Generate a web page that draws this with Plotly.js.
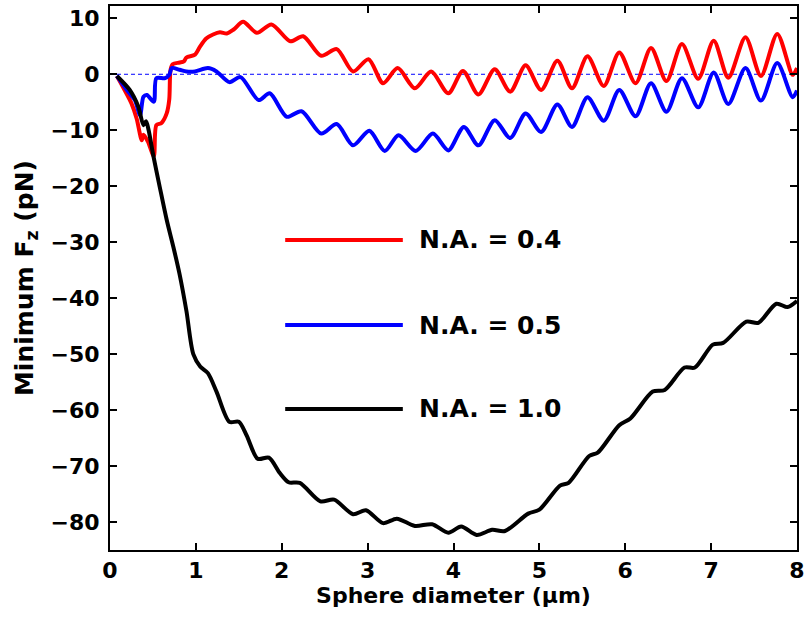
<!DOCTYPE html>
<html>
<head>
<meta charset="utf-8">
<script src="https://cdn.plot.ly/plotly-3.0.1.min.js"></script>
<style>
  html, body { margin: 0; padding: 0; background: #ffffff; }
  #chart { width: 807px; height: 620px; }
</style>
</head>
<body>
<div id="chart"></div>
<script>
// Minimum axial force Fz (pN) versus sphere diameter (um) for three numerical apertures.
const seriesNames = ['N.A. = 0.4', 'N.A. = 0.5', 'N.A. = 1.0'];
const seriesColors = ['#ff0000', '#0000ff', '#000000'];

// N.A. = 0.4
const na04X = [0.08, 0.17, 0.25, 0.31, 0.37, 0.39, 0.44, 0.51, 0.54, 0.60, 0.66, 0.69, 0.705, 0.73, 0.81, 0.86, 0.89, 0.99, 1.05, 1.12, 1.20, 1.28, 1.36, 1.44, 1.55, 1.71, 1.88, 2.10, 2.25, 2.46, 2.64, 2.83, 3.01, 3.18, 3.35, 3.55, 3.74, 3.94, 4.11, 4.29, 4.48, 4.66, 4.84, 5.02, 5.21, 5.38, 5.56, 5.75, 5.93, 6.12, 6.30, 6.48, 6.66, 6.85, 7.03, 7.20, 7.40, 7.58, 7.77, 7.95, 8.00];
const na04Y = [-0.3, -2.8, -5.2, -7.9, -11.8, -10.8, -12.0, -14.6, -9.1, -8.7, -7.0, -4.5, 0.8, 1.8, 2.1, 2.3, 3.0, 3.5, 5.0, 6.4, 7.1, 7.5, 7.3, 8.0, 9.4, 7.4, 8.9, 5.9, 6.8, 3.3, 4.5, 0.5, 2.7, -1.6, 1.1, -2.5, 0.5, -3.4, 0.6, -3.6, 0.9, -3.1, 1.6, -2.8, 2.4, -2.5, 3.2, -2.1, 3.9, -1.6, 4.7, -1.2, 5.4, -0.8, 6.0, -0.6, 6.6, -0.3, 7.2, -0.1, 1.1];

// N.A. = 0.5
const na05X = [0.08, 0.21, 0.29, 0.35, 0.39, 0.43, 0.51, 0.54, 0.64, 0.69, 0.72, 0.81, 0.89, 0.99, 1.14, 1.24, 1.39, 1.52, 1.73, 1.86, 2.06, 2.23, 2.46, 2.64, 2.83, 3.02, 3.20, 3.36, 3.56, 3.76, 3.94, 4.12, 4.29, 4.48, 4.66, 4.84, 5.02, 5.21, 5.38, 5.56, 5.75, 5.93, 6.12, 6.30, 6.48, 6.66, 6.85, 7.03, 7.20, 7.40, 7.58, 7.77, 7.95, 8.00];
const na05Y = [-0.3, -3.1, -4.6, -7.3, -4.0, -3.7, -4.9, -0.7, -0.7, -0.1, 1.1, 0.8, 0.5, 0.5, 1.1, 0.5, -1.4, -0.5, -4.6, -3.4, -7.6, -6.6, -10.6, -8.9, -12.7, -10.1, -13.7, -10.9, -13.7, -10.6, -13.6, -9.4, -12.7, -8.2, -11.4, -7.0, -10.3, -5.4, -9.4, -4.1, -8.3, -2.8, -7.5, -1.6, -6.7, -0.7, -5.9, 0.3, -5.3, 1.1, -4.7, 2.0, -4.1, -2.9];

// N.A. = 1.0
const na10X = [0.08, 0.23, 0.33, 0.39, 0.42, 0.45, 0.50, 0.58, 0.66, 0.74, 0.81, 0.89, 0.97, 1.05, 1.14, 1.24, 1.39, 1.50, 1.59, 1.72, 1.85, 1.98, 2.08, 2.21, 2.45, 2.61, 2.83, 2.98, 3.18, 3.34, 3.55, 3.75, 3.94, 4.09, 4.27, 4.45, 4.60, 4.87, 5.00, 5.24, 5.34, 5.58, 5.68, 5.93, 6.06, 6.32, 6.46, 6.69, 6.81, 7.02, 7.14, 7.41, 7.55, 7.76, 7.89, 8.00];
const na10Y = [-0.3, -2.8, -5.8, -9.1, -8.4, -10.0, -14.2, -20.2, -26.0, -31.0, -35.7, -42.3, -50.0, -52.2, -53.4, -56.7, -62.1, -62.1, -64.5, -68.7, -68.5, -71.3, -72.9, -73.0, -76.3, -76.0, -78.6, -77.9, -80.2, -79.4, -80.7, -80.4, -81.9, -80.8, -82.3, -81.4, -81.6, -78.5, -77.8, -73.5, -73.0, -68.2, -67.6, -62.7, -61.5, -56.7, -56.4, -52.4, -52.4, -48.3, -48.0, -44.2, -44.4, -41.0, -41.6, -40.5];

// In-plot legend: sample-line span (x) and row positions (y), data units
const legendLineX = [2.04, 3.41];
const legendTextX = 3.57;
const legendRowY = [-29.6, -44.8, -59.8];

const yTicks = [-80, -70, -60, -50, -40, -30, -20, -10, 0, 10];
const xTicks = [0, 1, 2, 3, 4, 5, 6, 7, 8];

const FONT = '"DejaVu Sans", "Liberation Sans", Arial, sans-serif';

const xs = [na04X, na05X, na10X];
const ys = [na04Y, na05Y, na10Y];

const traces = seriesNames.map((name, i) => ({
  type: 'scatter',
  mode: 'lines',
  name: name,
  x: xs[i],
  y: ys[i],
  line: { color: seriesColors[i], width: 4, shape: 'spline', smoothing: 0.8 },
  showlegend: false,
  hoverinfo: 'x+y+name'
}));

const shapes = [
  // dashed reference line at Fz = 0
  {
    type: 'line', xref: 'paper', yref: 'y', x0: 0, x1: 1, y0: 0, y1: 0,
    line: { color: '#0000ff', width: 1, dash: '4px,3px' }, layer: 'below'
  }
];
const annotations = [];

seriesNames.forEach((name, i) => {
  shapes.push({
    type: 'line', xref: 'x', yref: 'y',
    x0: legendLineX[0], x1: legendLineX[1], y0: legendRowY[i], y1: legendRowY[i],
    line: { color: seriesColors[i], width: 4 }
  });
  annotations.push({
    xref: 'x', yref: 'y', x: legendTextX, y: legendRowY[i],
    xanchor: 'left', yanchor: 'middle', showarrow: false,
    text: '<b>' + name + '</b>',
    font: { family: FONT, size: 25, color: '#000000' }
  });
});

const axisCommon = {
  showline: true, linecolor: '#000000', linewidth: 2,
  mirror: 'ticks', ticks: 'inside', ticklen: 7, tickwidth: 2, tickcolor: '#000000',
  showgrid: false, zeroline: false,
  tickfont: { family: FONT, size: 22, color: '#000000', weight: 'bold' }
};

const layout = {
  width: 807, height: 620,
  margin: { l: 110, r: 10, t: 6, b: 70 },
  paper_bgcolor: '#ffffff', plot_bgcolor: '#ffffff',
  font: { family: FONT, color: '#000000' },
  xaxis: Object.assign({}, axisCommon, {
    range: [0, 8], tickvals: xTicks, ticktext: xTicks.map(String),
    title: { text: '<b>Sphere diameter (\u03bcm)</b>', font: { family: FONT, size: 22, color: '#000000' }, standoff: 4 }
  }),
  yaxis: Object.assign({}, axisCommon, {
    range: [-85, 12.2], tickvals: yTicks,
    ticklabelstandoff: 4,
    title: { text: '<b>Minimum F<sub>z</sub> (pN)</b>', font: { family: FONT, size: 25, color: '#000000' }, standoff: 10 }
  }),
  shapes: shapes,
  annotations: annotations
};

Plotly.newPlot('chart', traces, layout, { displayModeBar: false, staticPlot: true });
</script>
</body>
</html>
